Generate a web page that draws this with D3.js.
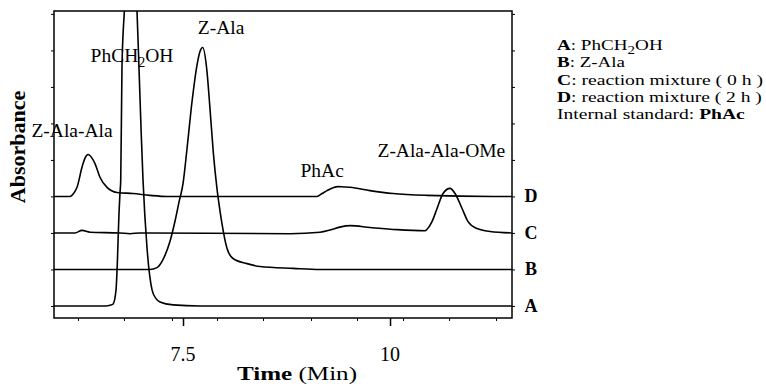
<!DOCTYPE html>
<html>
<head>
<meta charset="utf-8">
<script src="https://cdn.jsdelivr.net/npm/d3@7"></script>
<style>
  body { margin: 0; background: #fff; }
  svg { display: block; font-family: "Liberation Serif", "DejaVu Serif", serif; }
  .trace { fill: none; stroke: #000; stroke-width: 1.6; }
</style>
</head>
<body>
<svg id="chart" width="766" height="388"></svg>
<script>
// [time (min), absorbance above the trace's own baseline]
const traceA = [[5.94,0],[6.56,0],[6.62,0.02],[6.655,0.05],[6.691,0.44],[6.707,1.18],[6.727,2.55],[6.739,3.1],[6.748,3.45],[6.763,6.55],[6.791,8.05],
  [6.83,9.3],[6.866,9.8],[6.91,9.3],[6.944,8.1],[6.968,6.55],[6.995,4.74],[7.017,3.45],[7.065,1.6],[7.126,0.44],[7.174,0.2],[7.222,0.11],[7.379,0.03],[7.705,0],[11.47,0]];
const traceB = [[5.94,0],[7.10,0],[7.186,0.05],[7.258,0.27],[7.343,0.77],[7.403,1.32],[7.452,1.85],[7.50,2.35],[7.548,3.3],[7.609,4.6],[7.669,5.6],[7.705,5.97],
  [7.738,6.08],[7.786,5.5],[7.826,4.4],[7.866,3.2],[7.911,2.2],[7.947,1.6],[7.971,1.25],[8.031,0.58],[8.104,0.3],[8.273,0.16],[8.43,0.08],[8.829,0.03],[9.155,0],[11.47,0]];
const traceC = [[5.94,0],[6.196,0],[6.28,0.07],[6.377,0.02],[6.739,0],[6.86,-0.02],[6.981,0],[8.792,-0.02],[9.155,0.02],[9.275,0.08],[9.396,0.16],[9.517,0.2],
  [9.758,0.15],[10.085,0.09],[10.423,0.06],[10.447,0.1],[10.507,0.31],[10.568,0.67],[10.64,1.08],[10.725,1.22],[10.785,1.08],[10.87,0.67],[10.942,0.31],
  [11.051,0.12],[11.208,0.04],[11.47,0]];
const traceD = [[5.94,0],[6.135,0],[6.184,0.1],[6.22,0.25],[6.28,0.8],[6.316,1.05],[6.353,1.15],[6.401,1.05],[6.437,0.9],[6.498,0.52],[6.582,0.25],[6.703,0.11],
  [6.896,0.08],[7.101,0.03],[7.307,0],[9.118,0],[9.179,0.08],[9.239,0.16],[9.312,0.24],[9.372,0.27],[9.444,0.26],[9.517,0.25],[9.758,0.16],[10.036,0.08],
  [10.447,0.03],[11.244,0],[11.47,0]];

const traceNames = ["A", "B", "C", "D"];
const traceOffsets = [0, 1, 2, 3];
const majorTicks = [7.5, 10];
const minorTicks = [6.232, 6.787, 7.367, 7.911, 8.466, 9.046, 9.601, 10.157, 10.713, 11.28];
const peakLabels = [
  { text: "Z-Ala-Ala", t: 6.16, v: 4.63 },
  { text: "PhCH|2|OH", t: 6.884, v: 6.68 },
  { text: "Z-Ala", t: 7.96, v: 7.45 },
  { text: "PhAc", t: 9.18, v: 3.53 },
  { text: "Z-Ala-Ala-OMe", t: 10.62, v: 4.08 }
];
const legendLines = [
  [["A", true], [": PhCH", false], ["2", false, "sub"], ["OH", false, "up"]],
  [["B", true], [": Z-Ala", false]],
  [["C", true], [": reaction mixture ( 0 h )", false]],
  [["D", true], [": reaction mixture ( 2 h )", false]],
  [["Internal standard: ", false], ["PhAc", true]]
];
// rendered widths of the legend lines, to match the stretched lettering
const legendWidths = [106, null, 206, 205, 188];

const mLeft = 54, mRight = 512, mTop = 11, mBottom = 318;
const svg = d3.select("#chart");

const x = d3.scaleLinear().domain([5.942, 11.473]).range([mLeft, mRight]);
const y = d3.scaleLinear().domain([-0.33, 8.08]).range([mBottom, mTop]);

svg.append("clipPath").attr("id", "plot")
  .append("rect").attr("x", mLeft).attr("y", mTop).attr("width", mRight - mLeft).attr("height", mBottom - mTop);

const line = d3.line()
  .x(d => x(d[0]))
  .y(d => y(d[1]))
  .curve(d3.curveMonotoneX);

[traceA, traceB, traceC, traceD].forEach((tr, i) => {
  svg.append("path")
    .attr("class", "trace")
    .attr("clip-path", "url(#plot)")
    .attr("d", line(tr.map(p => [p[0], p[1] + traceOffsets[i]])));
});

// frame
svg.append("rect")
  .attr("x", mLeft).attr("y", mTop).attr("width", mRight - mLeft).attr("height", mBottom - mTop)
  .attr("fill", "none").attr("stroke", "#000").attr("stroke-width", 1.5);

const yTicks = d3.range(0, 9);
svg.append("g").attr("transform", `translate(${mLeft},0)`)
  .call(d3.axisLeft(y).tickValues(yTicks).tickSize(3).tickFormat(""))
  .call(g => g.select(".domain").remove());
svg.append("g").attr("transform", `translate(${mRight},0)`)
  .call(d3.axisRight(y).tickValues(yTicks).tickSize(3).tickFormat(""))
  .call(g => g.select(".domain").remove());

svg.append("g").attr("transform", `translate(0,${mBottom})`)
  .call(d3.axisBottom(x).tickValues(minorTicks).tickSize(3).tickFormat(""))
  .call(g => g.select(".domain").remove());
svg.append("g").attr("transform", `translate(0,${mBottom})`)
  .call(d3.axisBottom(x).tickValues(majorTicks).tickSize(8).tickFormat(""))
  .call(g => g.select(".domain").remove())
  .call(g => g.selectAll("line").attr("stroke-width", 1.5));
svg.selectAll("g.tick line").attr("stroke", "#000");

svg.selectAll(".xlab")
  .data(majorTicks)
  .enter().append("text")
  .attr("x", d => x(d)).attr("y", 361)
  .attr("text-anchor", "middle").attr("font-size", 20)
  .text(d => d);

const xt = svg.append("text").attr("x", 237).attr("y", 380)
  .attr("font-size", 18)
  .attr("textLength", 120).attr("lengthAdjust", "spacingAndGlyphs");
xt.append("tspan").attr("font-weight", "bold").text("Time");
xt.append("tspan").text(" (Min)");

svg.append("text")
  .attr("transform", "translate(25,147) rotate(-90)")
  .attr("text-anchor", "middle").attr("font-size", 22).attr("font-weight", "bold")
  .text("Absorbance");

// peak labels
peakLabels.forEach(p => {
  const t = svg.append("text").attr("x", x(p.t)).attr("y", y(p.v))
    .attr("text-anchor", "middle").attr("font-size", 19.5);
  p.text.split("|").forEach((s, i) => {
    const ts = t.append("tspan").text(s);
    if (i === 1) ts.attr("dy", 5).attr("font-size", 14);
    if (i === 2) ts.attr("dy", -5);
  });
});

// trace letters
traceNames.forEach((n, i) => {
  svg.append("text")
    .attr("x", 531).attr("y", y(traceOffsets[i]) + 6)
    .attr("text-anchor", "middle").attr("font-size", 18).attr("font-weight", "bold")
    .text(n);
});

// legend: stretch each line horizontally to the width it has in the figure
legendLines.forEach((ln, i) => {
  const t = svg.append("text").attr("font-size", 19);
  ln.forEach(seg => {
    const ts = t.append("tspan").text(seg[0]);
    if (seg[1]) ts.attr("font-weight", "bold");
    if (seg[2] === "sub") ts.attr("dy", 5).attr("font-size", 15);
    if (seg[2] === "up") ts.attr("dy", -5);
  });
  const natural = t.node().getBBox().width;
  const sx = legendWidths[i] ? legendWidths[i] / natural : 1;
  t.attr("transform", `translate(557,${50 + i * 17.3}) scale(${sx},0.8)`);
});
</script>
</body>
</html>
